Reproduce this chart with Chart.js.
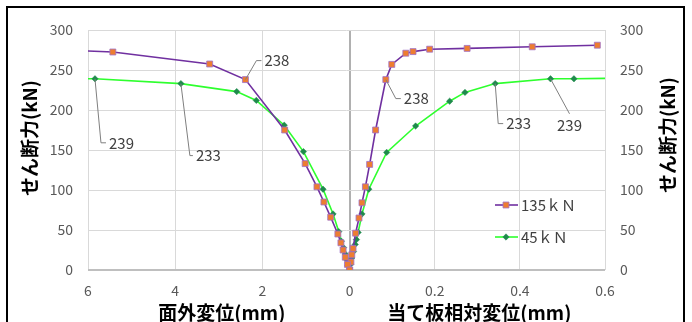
<!DOCTYPE html>
<html>
<head>
<meta charset="utf-8">
<script src="https://cdn.jsdelivr.net/npm/chart.js@4"></script>
<style>
  body { margin: 0; background: #fff; overflow: hidden; }
  #wrap { position: relative; width: 692px; height: 322px; }
  #frame { position: absolute; left: 6px; top: 6px; width: 675px; height: 340px; border: 2px solid #000; pointer-events: none; }
  canvas { position: absolute; left: 0; top: 0; }
</style>
</head>
<body>
<div id="wrap">
  <canvas id="shearChart" width="692" height="322"></canvas>
  <div id="frame"></div>
</div>
<script>
// 面外変位 (left half, mm)
const out135X = [6.8, 5.43, 3.21, 2.39, 1.49, 1.02, 0.75, 0.59, 0.435, 0.27, 0.2, 0.15, 0.1, 0.05, 0];
const out135Y = [275.5, 272.5, 257.5, 238, 175, 133, 104, 85, 66, 45, 34, 25, 16, 7, 0];
const out45X = [7.0, 5.84, 3.87, 2.59, 2.14, 1.50, 1.06, 0.61, 0.38, 0.25, 0.19, 0.14, 0.1, 0.07, 0.04, 0];
const out45Y = [239.5, 239, 233, 223, 212, 181, 148, 101, 70, 48, 36, 28, 20, 13, 6, 0];

// 当て板相対変位 (right half, mm)
const rel135X = [0, 0.003, 0.005, 0.008, 0.014, 0.022, 0.029, 0.037, 0.047, 0.061, 0.085, 0.099, 0.132, 0.149, 0.188, 0.276, 0.429, 0.582];
const rel135Y = [0, 10, 19, 27, 46, 65, 84, 104, 132, 175, 238, 257, 271, 273, 276, 277, 279, 281];
const rel45X = [0, 0.002, 0.005, 0.009, 0.013, 0.016, 0.020, 0.029, 0.045, 0.087, 0.155, 0.235, 0.271, 0.342, 0.472, 0.527, 0.65];
const rel45Y = [0, 7, 15, 23, 32, 38, 47, 70, 101, 147, 180, 211, 222, 233, 239, 239, 240];

const seriesNames = ['135ｋＮ', '45ｋＮ'];
const outTicks = [6, 4, 2, 0];
const relTicks = [0.2, 0.4, 0.6];
const yTicks = [0, 50, 100, 150, 200, 250, 300];

// left half (6mm) is drawn a little wider than right half (0.6mm) in the original
const LEFT_K = 87.3 / 85.2;
const REL_K = 10;

const purple = '#7030A0', orange = '#ED7D31', lime = '#2EFF2E', dkGreen = '#1F8A4C';
const font = "'Noto Sans CJK JP', sans-serif";

function toOut(xs, ys) { return xs.map((v, i) => ({x: -v * LEFT_K, y: ys[i]})); }
function toRel(xs, ys) { return xs.map((v, i) => ({x: v * REL_K, y: ys[i]})); }

const style135 = {
  borderColor: purple, borderWidth: 1.6, pointStyle: 'rect', pointRadius: 4.2,
  pointBackgroundColor: orange, pointBorderColor: '#a070c8', pointBorderWidth: 0.8
};
const style45 = {
  borderColor: lime, borderWidth: 1.6, pointStyle: 'rectRot', pointRadius: 3.2,
  pointBackgroundColor: dkGreen, pointBorderColor: dkGreen, pointBorderWidth: 0.5
};

// leader-line labels: dataset, x value of the point, offset of elbow
const leaderLabels = [
  {ds: 0, x: 2.39, dx: 11, dy: -19, tick: 5},
  {ds: 2, x: 5.84, dx: 6, dy: 64, tick: 5},
  {ds: 2, x: 3.87, dx: 9, dy: 72, tick: 3},
  {ds: 1, x: 0.085, dx: 10, dy: 19, tick: 5},
  {ds: 3, x: 0.342, dx: 3, dy: 40, tick: 5},
  {ds: 3, x: 0.472, dx: 19, dy: 35, tick: 0, below: true}
];
const rawX = [out135X, rel135X, out45X, rel45X];
const rawY = [out135Y, rel135Y, out45Y, rel45Y];

const extras = {
  id: 'extras',
  afterDatasetsDraw(chart) {
    const ctx = chart.ctx;
    const area = chart.chartArea;
    const xs = chart.scales.x;
    ctx.save();

    // data labels with leader lines
    ctx.font = '15px ' + font;
    leaderLabels.forEach(l => {
      const i = rawX[l.ds].indexOf(l.x);
      const p = chart.getDatasetMeta(l.ds).data[i];
      const ex = p.x + l.dx, ey = p.y + l.dy;
      ctx.strokeStyle = '#7f7f7f';
      ctx.lineWidth = 1;
      ctx.beginPath();
      ctx.moveTo(p.x, p.y);
      ctx.lineTo(ex, ey);
      if (l.tick) ctx.lineTo(ex + l.tick, ey);
      ctx.stroke();
      ctx.fillStyle = '#404040';
      const txt = String(Math.round(rawY[l.ds][i]));
      if (l.below) {
        ctx.textAlign = 'center';
        ctx.textBaseline = 'top';
        ctx.fillText(txt, ex, ey + 4);
      } else {
        ctx.textAlign = 'left';
        ctx.textBaseline = 'middle';
        ctx.fillText(txt, ex + l.tick + 3, ey);
      }
    });

    // legend
    const legendY = [205, 237];
    [0, 2].forEach((ds, k) => {
      const d = chart.data.datasets[ds];
      const y = legendY[k];
      const x0 = area.right - 110;
      ctx.strokeStyle = d.borderColor;
      ctx.lineWidth = d.borderWidth;
      ctx.beginPath();
      ctx.moveTo(x0, y);
      ctx.lineTo(x0 + 23, y);
      ctx.stroke();
      ctx.fillStyle = d.pointBackgroundColor;
      ctx.strokeStyle = d.pointBorderColor;
      ctx.lineWidth = d.pointBorderWidth;
      Chart.helpers.drawPoint(ctx, {pointStyle: d.pointStyle, radius: d.pointRadius, borderWidth: d.pointBorderWidth}, x0 + 11, y);
      ctx.fillStyle = '#404040';
      ctx.font = '15px ' + font;
      ctx.textAlign = 'left';
      ctx.textBaseline = 'middle';
      ctx.fillText(d.label, x0 + 26, y);
    });

    // axis titles
    ctx.fillStyle = '#000';
    ctx.font = 'bold 19px ' + font;
    ctx.textAlign = 'center';
    ctx.textBaseline = 'middle';
    const zero = xs.getPixelForValue(0);
    ctx.fillText('面外変位(mm)', (area.left + zero) / 2 + 3, area.bottom + 43);
    ctx.fillText('当て板相対変位(mm)', (zero + area.right) / 2 + 2, area.bottom + 43);
    ctx.translate(30, area.top + 108);
    ctx.rotate(-Math.PI / 2);
    ctx.fillText('せん断力(kN)', 0, 0);
    ctx.restore();
    ctx.save();
    ctx.fillStyle = '#000';
    ctx.font = 'bold 19px ' + font;
    ctx.textAlign = 'center';
    ctx.textBaseline = 'middle';
    ctx.translate(668, area.top + 105);
    ctx.rotate(-Math.PI / 2);
    ctx.fillText('せん断力(kN)', 0, 0);
    ctx.restore();
  }
};

const xTickValues = outTicks.map(v => -v * LEFT_K).concat(relTicks.map(v => v * REL_K));

function yAxis(position, width) {
  return {
    type: 'linear', position: position, min: 0, max: 300,
    afterBuildTicks: s => { s.ticks = yTicks.map(v => ({value: v})); },
    afterFit: s => { s.width = width; },
    border: {display: false},
    grid: {
      drawOnChartArea: position === 'left', drawTicks: false,
      color: c => c.tick && c.tick.value === 0 ? '#bfbfbf' : '#d9d9d9',
      lineWidth: c => c.tick && c.tick.value === 0 ? 2 : 1
    },
    ticks: {padding: 15, color: '#595959', font: {family: font, size: 14}}
  };
}

new Chart(document.getElementById('shearChart'), {
  type: 'line',
  data: {
    datasets: [
      Object.assign({label: seriesNames[0], data: toOut(out135X, out135Y)}, style135),
      Object.assign({label: seriesNames[0], data: toRel(rel135X, rel135Y)}, style135),
      Object.assign({label: seriesNames[1], data: toOut(out45X, out45Y)}, style45),
      Object.assign({label: seriesNames[1], data: toRel(rel45X, rel45Y)}, style45)
    ]
  },
  options: {
    responsive: false,
    animation: false,
    layout: {padding: {top: 30, left: 0, right: 0, bottom: 0}},
    plugins: {legend: {display: false}, tooltip: {enabled: false}},
    elements: {line: {tension: 0}},
    scales: {
      x: {
        type: 'linear', min: -6 * LEFT_K, max: 6,
        afterBuildTicks: s => { s.ticks = xTickValues.map(v => ({value: v})); },
        afterFit: s => { s.height = 52; },
        border: {display: false},
        grid: {
          drawTicks: false,
          color: c => c.tick && c.tick.value === 0 ? '#b0b0b0' : '#d9d9d9',
          lineWidth: c => c.tick && c.tick.value === 0 ? 2 : 1
        },
        ticks: {
          padding: 12, color: '#595959', font: {family: font, size: 14},
          callback: v => v < 0 ? String(Math.round(-v / LEFT_K)) : String(Math.round(v) / REL_K)
        }
      },
      y: yAxis('left', 88),
      y2: yAxis('right', 87)
    }
  },
  plugins: [extras]
});
</script>
</body>
</html>
